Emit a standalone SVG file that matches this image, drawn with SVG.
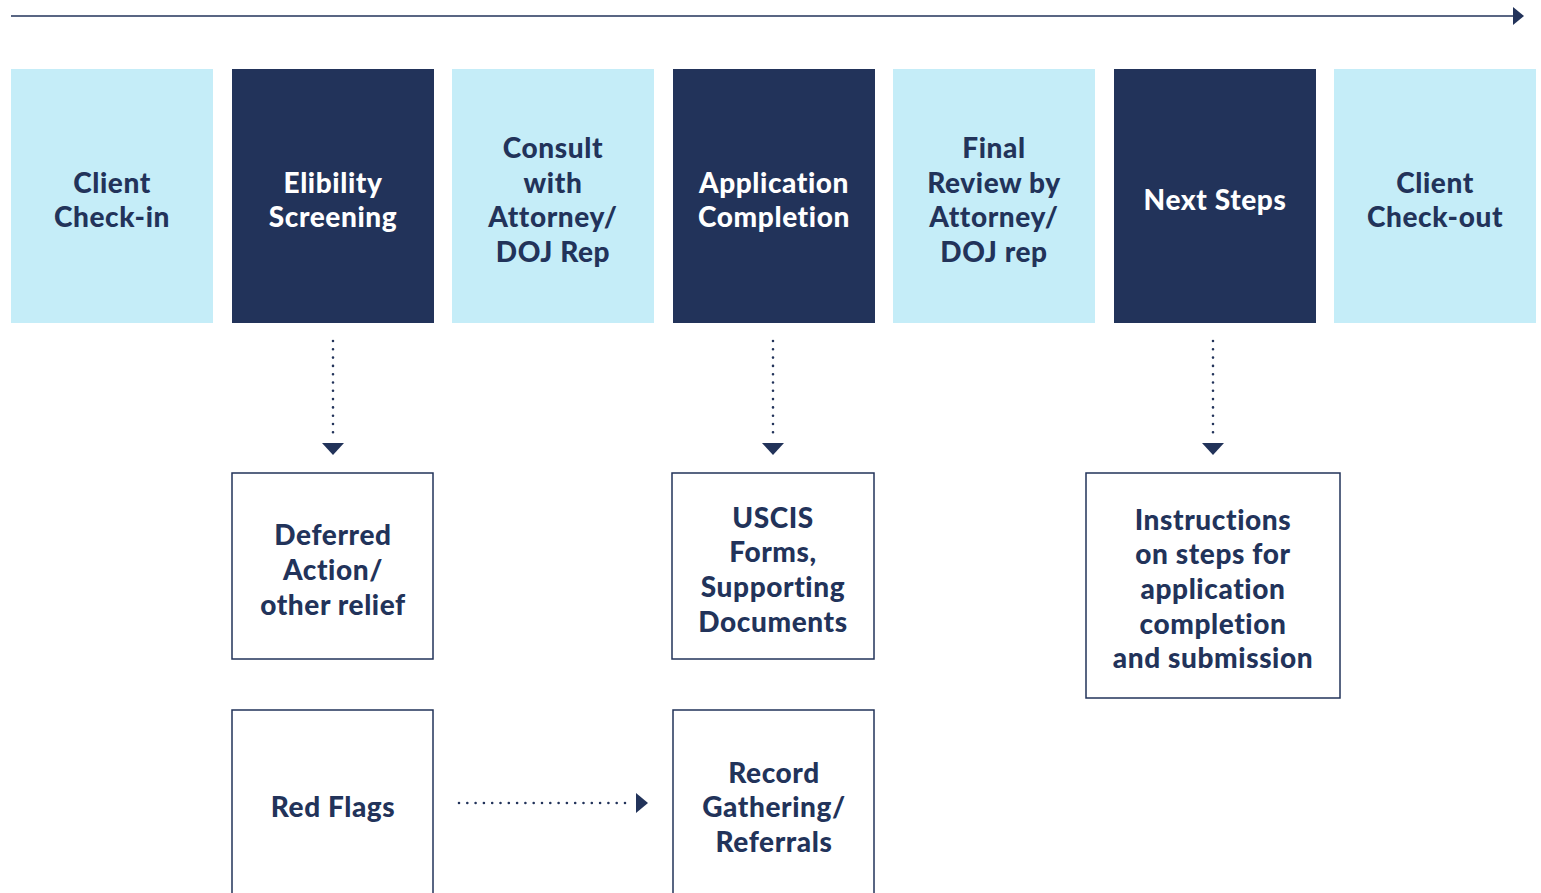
<svg xmlns="http://www.w3.org/2000/svg" width="1541" height="893" viewBox="0 0 1541 893">
<defs>
<style>
.light{fill:#C5EDF8}
.dark{fill:#22335A}
.box{fill:#FFFFFF;stroke:#22335A;stroke-width:1.5}
text{font-family:Lato,"Open Sans",sans-serif;font-weight:900;font-size:28px;letter-spacing:0.6px;text-anchor:middle}
.tl{fill:#22335A}
.td{fill:#FFFFFF}
.dot{stroke:#22335A;stroke-width:2.6;stroke-linecap:round;stroke-dasharray:0 8.3;fill:none}
.head{fill:#22335A}
</style>
</defs>
<rect width="1541" height="893" fill="#FFFFFF"/>
<g id="connectors">
<line x1="11" y1="16" x2="1514" y2="16" stroke="#22335A" stroke-width="1.5"/>
<polygon class="head" points="1513,7 1524,16 1513,25"/>
<line class="dot" x1="333" y1="341" x2="333" y2="440"/>
<polygon class="head" points="322,443 344,443 333,455"/>
<line class="dot" x1="773" y1="341" x2="773" y2="440"/>
<polygon class="head" points="762,443 784,443 773,455"/>
<line class="dot" x1="1213" y1="341" x2="1213" y2="440"/>
<polygon class="head" points="1202,443 1224,443 1213,455"/>
<line class="dot" x1="459" y1="803" x2="628" y2="803"/>
<polygon class="head" points="636,793 648,803 636,813"/>
</g>
<g id="client-checkin"><rect class="light" x="11" y="69" width="202" height="254"/><text class="tl" x="112" y="193">Client</text><text class="tl" x="112" y="227">Check-in</text></g>
<g id="eligibility"><rect class="dark" x="232" y="69" width="202" height="254"/><text class="td" x="333" y="193">Elibility</text><text class="td" x="333" y="227">Screening</text></g>
<g id="consult"><rect class="light" x="452" y="69" width="202" height="254"/><text class="tl" x="553" y="158">Consult</text><text class="tl" x="553" y="193">with</text><text class="tl" x="553" y="227">Attorney/</text><text class="tl" x="553" y="262">DOJ Rep</text></g>
<g id="application"><rect class="dark" x="673" y="69" width="202" height="254"/><text class="td" x="774" y="193">Application</text><text class="td" x="774" y="227">Completion</text></g>
<g id="final-review"><rect class="light" x="893" y="69" width="202" height="254"/><text class="tl" x="994" y="158">Final</text><text class="tl" x="994" y="193">Review by</text><text class="tl" x="994" y="227">Attorney/</text><text class="tl" x="994" y="262">DOJ rep</text></g>
<g id="next-steps"><rect class="dark" x="1114" y="69" width="202" height="254"/><text class="td" x="1215" y="210">Next Steps</text></g>
<g id="client-checkout"><rect class="light" x="1334" y="69" width="202" height="254"/><text class="tl" x="1435" y="193">Client</text><text class="tl" x="1435" y="227">Check-out</text></g>
<g id="deferred"><rect class="box" x="232" y="473" width="201" height="186"/><text class="tl" x="333" y="545">Deferred</text><text class="tl" x="333" y="580">Action/</text><text class="tl" x="333" y="615">other relief</text></g>
<g id="uscis"><rect class="box" x="672" y="473" width="202" height="186"/><text class="tl" x="773" y="528">USCIS</text><text class="tl" x="773" y="562">Forms,</text><text class="tl" x="773" y="597">Supporting</text><text class="tl" x="773" y="632">Documents</text></g>
<g id="instructions"><rect class="box" x="1086" y="473" width="254" height="225"/><text class="tl" x="1213" y="530">Instructions</text><text class="tl" x="1213" y="564">on steps for</text><text class="tl" x="1213" y="599">application</text><text class="tl" x="1213" y="634">completion</text><text class="tl" x="1213" y="668">and submission</text></g>
<g id="red-flags"><rect class="box" x="232" y="710" width="201" height="200"/><text class="tl" x="333" y="817">Red Flags</text></g>
<g id="record"><rect class="box" x="673" y="710" width="201" height="200"/><text class="tl" x="774" y="783">Record</text><text class="tl" x="774" y="817">Gathering/</text><text class="tl" x="774" y="852">Referrals</text></g>
</svg>
